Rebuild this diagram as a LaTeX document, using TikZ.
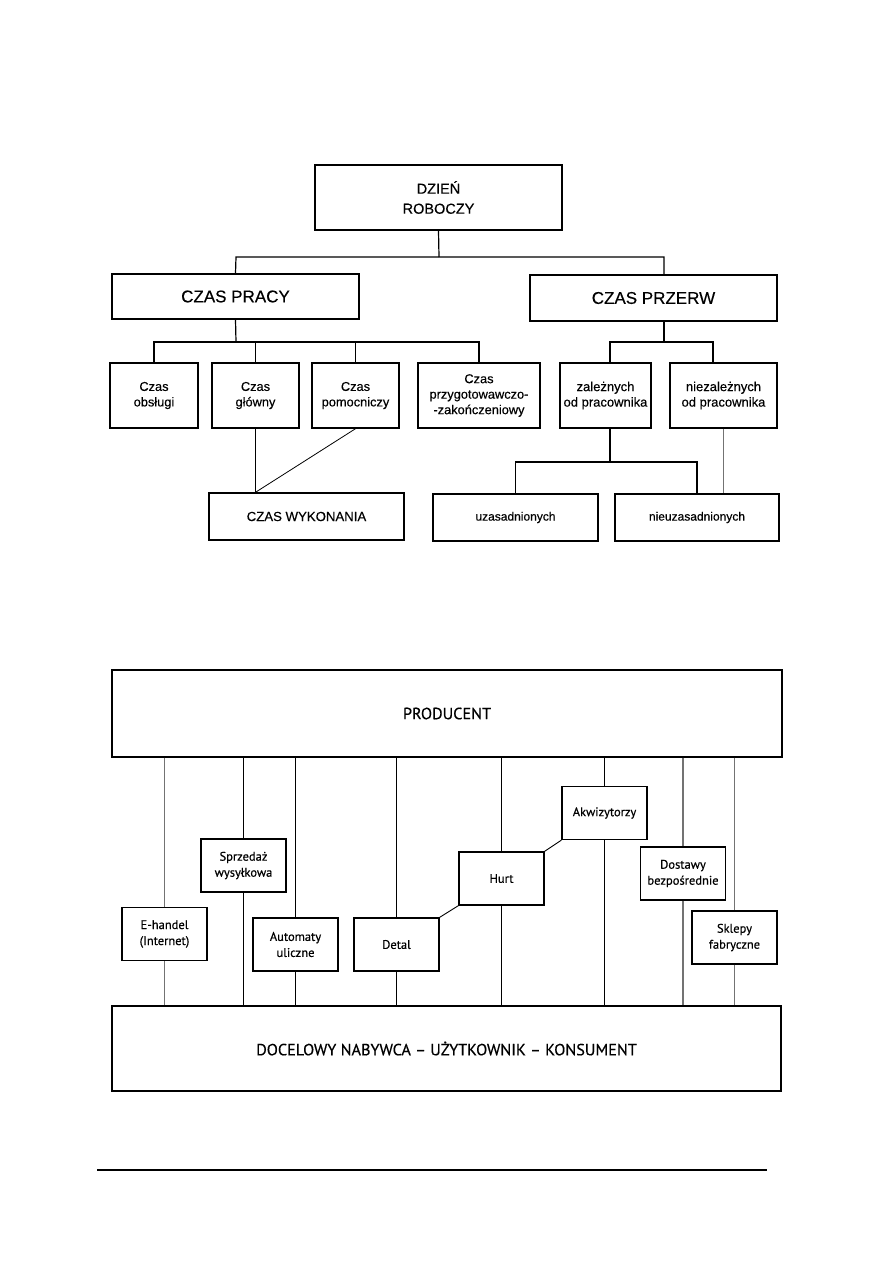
\documentclass[tikz,border=0pt]{standalone}
\usepackage{fontspec}
\setmainfont{Liberation Sans}[FakeBold=0.35]
\newfontfamily\myr{PT Sans}[FakeBold=0.45]
\begin{document}
\begin{tikzpicture}[x=1pt,y=-1pt,
  box/.style={draw=black, line width=1.4pt, rectangle, inner sep=0pt, align=center, anchor=center},
  conn/.style={draw=black, line width=1.2pt},
  gconn/.style={draw=black!55, line width=1.6pt},
  big/.style={font=\fontsize{14.5}{20}\selectfont},
  mid/.style={font=\fontsize{17}{18}\selectfont},
  sm/.style={font=\fontsize{12.8}{15.5}\selectfont},
  smr/.style={font=\fontsize{12}{15}\selectfont},
  bx/.style={box, minimum width=85pt, minimum height=53pt, font=\myr\fontsize{12.5}{16}\selectfont},
  bigb/.style={box, font=\myr\fontsize{16.2}{20}\selectfont}
]
\useasboundingbox (0,0) rectangle (893,1263);
\fill[white] (0,0) rectangle (893,1263);

% ---------------- top diagram ----------------
\node[box, big, minimum width=247pt, minimum height=65pt] (dzien) at (438.5,197.5) {DZIEŃ\\ROBOCZY};
\node[box, mid, minimum width=247pt, minimum height=45pt] (praca) at (235.5,296.5) {CZAS PRACY};
\node[box, mid, minimum width=247pt, minimum height=46pt] (przerw) at (653.5,298) {CZAS PRZERW};

\node[box, sm, minimum width=88pt, minimum height=65pt] (obs) at (154,395.5) {Czas\\obsługi};
\node[box, sm, minimum width=87pt, minimum height=65pt] (glowny) at (255.5,395.5) {Czas\\główny};
\node[box, sm, minimum width=87pt, minimum height=65pt] (pomoc) at (355.5,395.5) {Czas\\pomocniczy};
\node[box, sm, minimum width=122pt, minimum height=65pt] (przyg) at (479,395.5) {Czas\\przygotowawczo-\\-zakończeniowy};
\node[box, sm, font=\fontsize{13}{15.5}\selectfont, minimum width=91pt, minimum height=65pt] (zal) at (605.5,395.5) {zależnych\\od pracownika};
\node[box, sm, font=\fontsize{13}{15.5}\selectfont, minimum width=107pt, minimum height=65pt] (niez) at (723.5,395.5) {niezależnych\\od pracownika};

\node[box, font=\fontsize{13.2}{15}\selectfont, minimum width=195pt, minimum height=47pt] (wyk) at (306.5,516.5) {CZAS WYKONANIA};
\node[box, smr, minimum width=165pt, minimum height=47pt] (uzas) at (515.5,517.5) {uzasadnionych};
\node[box, smr, minimum width=164pt, minimum height=47pt] (nieuz) at (697,517.5) {nieuzasadnionych};

\coordinate (j0) at (439,257);
\coordinate (jpL) at (236,257);
\coordinate (jpR) at (664,257);
\coordinate (j1) at (236,342);
\coordinate (j2L) at (610,342);
\coordinate (j2R) at (713,342);
\coordinate (j3) at (610,462);

\draw[conn] (dzien.south) -- (j0);
\draw[conn] (praca.north) -- (jpL) -- (jpR) -- (przerw.north -| jpR);
\draw[conn] (praca.south) -- (j1);
\draw[conn] (obs.north) |- (j1) -| (przyg.north);
\draw[conn] (glowny.north) -- (glowny.north |- j1);
\draw[conn] (pomoc.north) -- (pomoc.north |- j1);
\draw[conn] (przerw.south -| jpR) -- (jpR |- j2L);
\draw[conn] (zal.north -| j2L) -- (j2L) -- (j2R) -- (niez.north -| j2R);
\draw[conn] (zal.south -| j3) -- (j3);
\draw[conn] (uzas.north) |- (j3) -| (nieuz.north);
\draw[gconn, line width=1.4pt] (niez.south) -- (niez.south |- nieuz.north);
\draw[conn] (glowny.south) -- (glowny.south |- wyk.north);
\draw[draw=black, line width=0.8pt] (pomoc.south) -- (glowny.south |- wyk.north);

% ---------------- bottom diagram ----------------
\node[bigb, minimum width=670pt, minimum height=87pt] (prod) at (447,713.5) {PRODUCENT};
\node[bigb, minimum width=669pt, minimum height=85pt] (doc) at (446.5,1048.5) {DOCELOWY NABYWCA – UŻYTKOWNIK – KONSUMENT};

\node[bx] (sprz) at (243.5,865.5) {Sprzedaż\\wysyłkowa};
\node[bx] (eh) at (164.5,934) {E-handel\\(Internet)};
\node[bx] (aut) at (295.5,944.5) {Automaty\\uliczne};
\node[bx] (det) at (396.5,944.5) {Detal};
\node[bx] (hurt) at (501.5,878.5) {Hurt};
\node[bx] (akw) at (604.5,813) {Akwizytorzy};
\node[bx] (dost) at (683,873.5) {Dostawy\\bezpośrednie};
\node[bx] (skl) at (734.5,937.5) {Sklepy\\fabryczne};

\foreach \n in {sprz,aut,det,hurt,akw}{
  \draw[conn] (prod.south -| \n.north) -- (\n.north);
  \draw[conn] (\n.south) -- (\n.south |- doc.north);
}
\foreach \n in {eh,dost,skl}{
  \draw[gconn] (prod.south -| \n.north) -- (\n.north);
  \draw[gconn] (\n.south) -- (\n.south |- doc.north);
}
\draw[draw=black, line width=0.9pt] (det.north east) -- (hurt.south west);
\draw[draw=black, line width=0.9pt] (hurt.north east) -- (akw.south west);

% footer rule
\coordinate (f1) at (97,1170);
\coordinate (f2) at (767,1170);
\draw[line width=1.5pt] (f1) -- (f2);
\end{tikzpicture}
\end{document}
